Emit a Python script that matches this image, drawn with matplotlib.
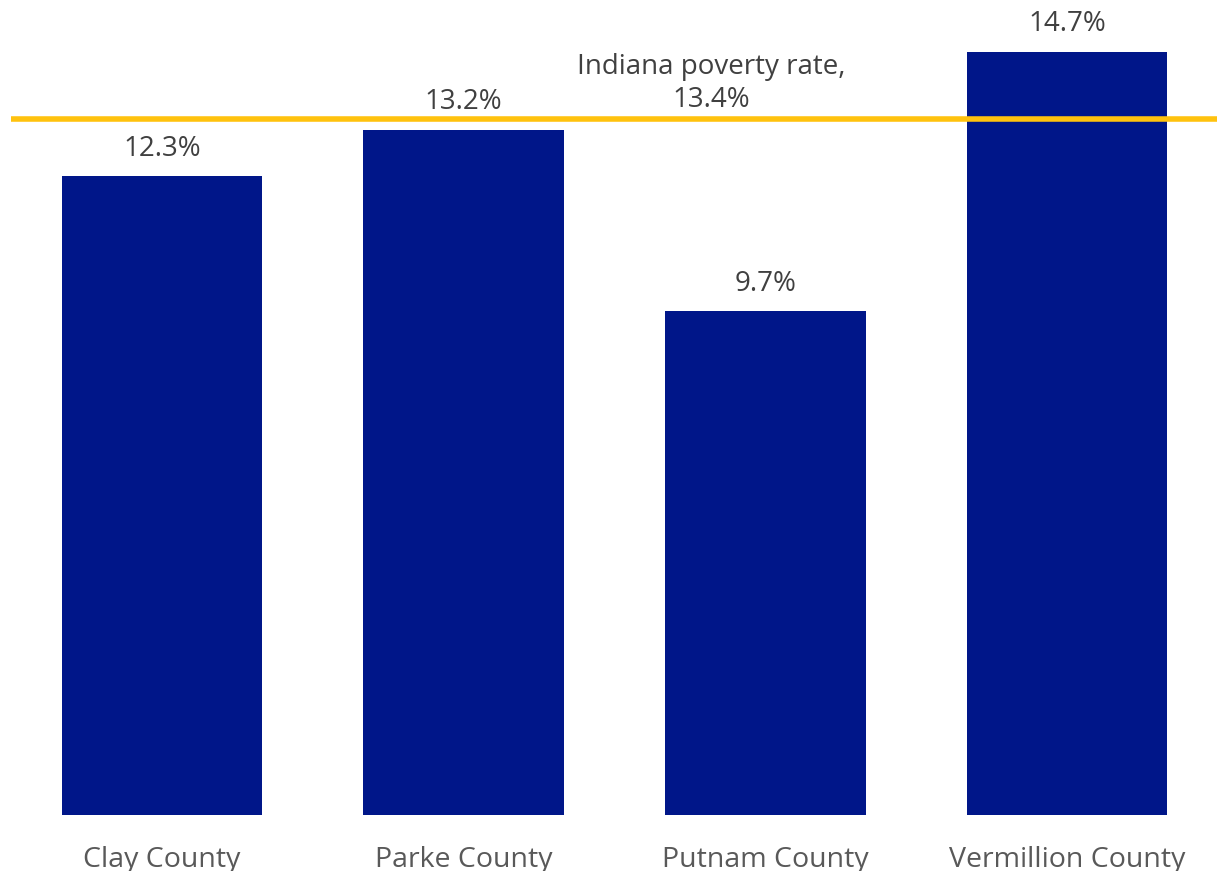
import matplotlib.pyplot as plt

counties = ['Clay County', 'Parke County', 'Putnam County', 'Vermillion County']
poverty = [12.3, 13.2, 9.7, 14.7]
state_rate = 13.4

plt.rcParams['font.family'] = ['Open Sans', 'DejaVu Sans']

fig = plt.figure(figsize=(12.17, 8.71), dpi=100)
ax = fig.add_axes([11 / 1217, 56 / 871, 1207 / 1217, 815 / 871])

x = range(len(counties))
bars = ax.bar(x, poverty, width=0.665, color='#001689', zorder=2)
ax.axhline(state_rate, color='#FFC20E', lw=4, zorder=3)

for rect, v in zip(bars, poverty):
    ax.annotate(f'{v}%', (rect.get_x() + rect.get_width() / 2, v),
                xytext=(0, 10), textcoords='offset points',
                ha='center', va='bottom', fontsize=20, color='#404040')

ax.annotate(f'Indiana poverty rate,\n{state_rate}%', (1.82, state_rate),
            xytext=(0, 4), textcoords='offset points',
            ha='center', va='bottom', fontsize=20, color='#404040',
            linespacing=1.25)

ax.set_xlim(-0.5, 3.5)
ax.set_ylim(0, 15.7)
ax.set_xticks(list(x))
ax.set_xticklabels(counties, fontsize=20.5, color='#595959')
ax.tick_params(axis='x', length=0, pad=22)
ax.set_yticks([])
for s in ax.spines.values():
    s.set_visible(False)

fig.savefig('out.png', dpi=100)
